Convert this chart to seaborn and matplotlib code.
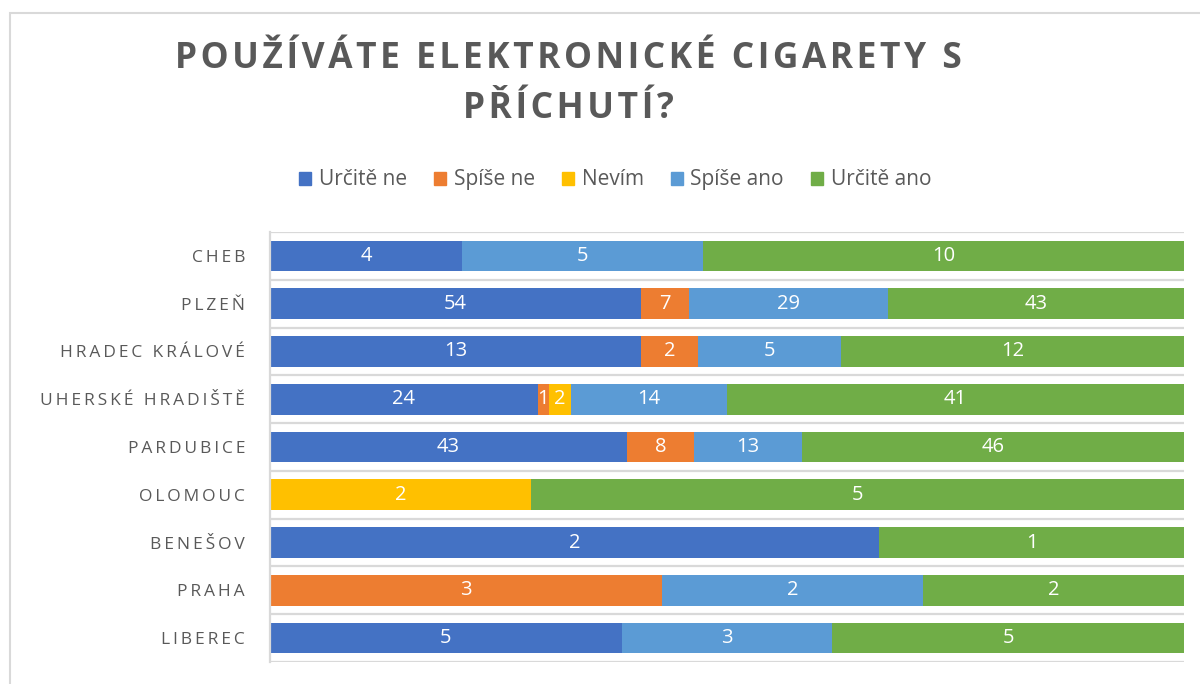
import numpy as np
import pandas as pd
import matplotlib
matplotlib.use("Agg")
import matplotlib.pyplot as plt
import seaborn as sns
from matplotlib.patches import Rectangle

cities = ["CHEB", "PLZEŇ", "HRADEC KRÁLOVÉ", "UHERSKÉ HRADIŠTĚ", "PARDUBICE",
          "OLOMOUC", "BENEŠOV", "PRAHA", "LIBEREC"]
answers = ["Určitě ne", "Spíše ne", "Nevím", "Spíše ano", "Určitě ano"]
urcite_ne = [4, 54, 13, 24, 43, 0, 2, 0, 5]
spise_ne = [0, 7, 2, 1, 8, 0, 0, 3, 0]
nevim = [0, 0, 0, 2, 0, 2, 0, 0, 0]
spise_ano = [5, 29, 5, 14, 13, 0, 0, 2, 3]
urcite_ano = [10, 43, 12, 41, 46, 5, 1, 2, 5]
colors = ["#4472C4", "#ED7D31", "#FFC000", "#5B9BD5", "#70AD47"]
title = "POUŽÍVÁTE ELEKTRONICKÉ CIGARETY S\nPŘÍCHUTÍ?"

sns.set_style("white")
plt.rcParams["font.family"] = ["Open Sans", "DejaVu Sans"]

counts = pd.DataFrame(
    {a: v for a, v in zip(answers, [urcite_ne, spise_ne, nevim, spise_ano, urcite_ano])},
    index=cities)
share = counts.div(counts.sum(axis=1), axis=0)
cum = share.cumsum(axis=1)


def spaced(s, sep="\u2009"):
    return "\n".join(sep.join(line) for line in s.split("\n"))


fig = plt.figure(figsize=(12, 6.84), dpi=100)
ax = fig.add_axes([270 / 1200, 1 - 662 / 684, (1184 - 270) / 1200, (662 - 232) / 684])

# draw cumulative bars from the widest one down so they stack
for a, c in reversed(list(zip(answers, colors))):
    sns.barplot(x=cum[a].values, y=cities, color=c, width=0.64, orient="h",
                ax=ax, saturation=1, linewidth=0)

for i, city in enumerate(cities):
    for a in answers:
        v = counts.loc[city, a]
        if v == 0:
            continue
        mid = cum.loc[city, a] - share.loc[city, a] / 2
        ax.text(mid, i, str(v), color="white", fontsize=14.5, ha="center", va="center")

ax.set_xlim(0, 1)
ax.set_ylim(len(cities) - 0.5, -0.5)
for k in range(len(cities) + 1):
    ax.axhline(k - 0.5, color="#D9D9D9", lw=1.6, zorder=0)
ax.set_xticks([])
ax.set_yticks(range(len(cities)))
ax.set_yticklabels([spaced(c, "\u2009") for c in cities], color="#595959", fontsize=12.5)
ax.tick_params(axis="y", length=0, pad=18)
for s in ["top", "right", "bottom"]:
    ax.spines[s].set_visible(False)
ax.spines["left"].set_color("#D9D9D9")
ax.spines["left"].set_linewidth(1.6)
ax.set_xlabel("")
ax.set_ylabel("")

fig.text(568 / 1200, 1 - 84 / 684, spaced(title, "\u200a"), ha="center", va="center",
         fontsize=25.5, fontweight="bold", color="#595959", linespacing=1.5)

handles = [Rectangle((0, 0), 1, 1, color=c) for c in colors]
fig.legend(handles, answers, loc="center", bbox_to_anchor=(615 / 1200, 1 - 180 / 684),
           ncol=5, frameon=False, fontsize=15, handlelength=0.6, handleheight=0.6,
           handletextpad=0.35, columnspacing=1.3, labelcolor="#595959")

fig.patches.append(Rectangle((10 / 1200, -0.05), 1.2, 1 - 13 / 684 + 0.05,
                             transform=fig.transFigure, fill=False,
                             edgecolor="#D9D9D9", lw=1.5))

fig.savefig("out.png", dpi=100)
